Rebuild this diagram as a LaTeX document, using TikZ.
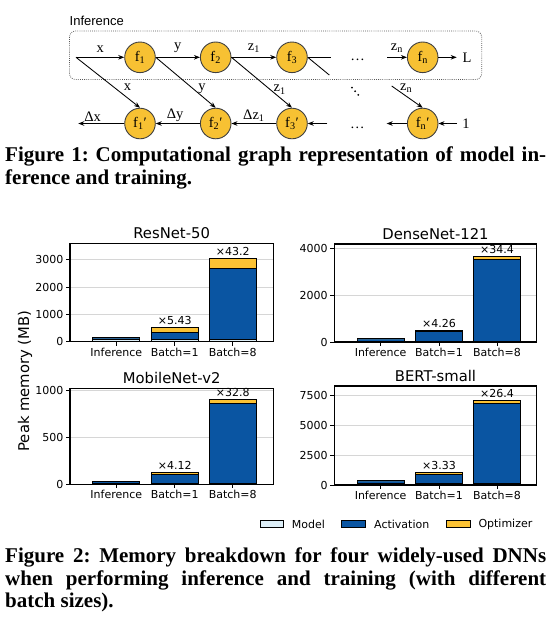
\documentclass[tikz,border=0pt]{standalone}
\usepackage{fontspec}
\usetikzlibrary{arrows.meta}
\newfontfamily\capfont{Liberation Serif}
\newfontfamily\chfont{DejaVu Sans}
\newfontfamily\lsans{Liberation Sans}
\newfontfamily\lserif{Liberation Serif}
\frenchspacing
\definecolor{nodeY}{HTML}{F7C133}
\definecolor{modelC}{HTML}{DDEEF7}
\definecolor{actC}{HTML}{0A55A2}
\definecolor{optC}{HTML}{FBC234}
\definecolor{gridC}{HTML}{D6D6D6}
\definecolor{boxC}{HTML}{555555}
\tikzset{
  x=1pt, y=-1pt,
  fnode/.style={circle, draw=black!75, line width=0.9pt, fill=nodeY, minimum size=30.6pt, inner sep=0pt, font=\lserif\fontsize{14.5}{15}\selectfont},
  arr/.style={-{Stealth[length=6pt,width=4.6pt]}, line width=0.85pt},
  plain/.style={line width=0.85pt},
  lbl/.style={font=\lserif\fontsize{14.5}{15}\selectfont, inner sep=1pt},
  gridl/.style={draw=gridC, line width=0.8pt},
  barline/.style={draw=black, line width=0.9pt},
  frame/.style={draw=black, line width=1.1pt},
  tickf/.style={font=\chfont\fontsize{11}{12}\selectfont, inner sep=0pt},
  titlef/.style={font=\chfont\fontsize{14.8}{16}\selectfont, inner sep=0pt},
  capline/.style={font=\capfont\bfseries\fontsize{21}{24}\selectfont, inner sep=0pt, anchor=base west},
}
\newcommand\stackbar[7]{% name, cx, base, scale, m, a, o
  \pgfmathsetmacro\yA{#3-#4*#5}
  \pgfmathsetmacro\yB{\yA-#4*#6}
  \pgfmathsetmacro\yC{\yB-#4*#7}
  \draw[barline, fill=modelC] (#2-23.5,#3) rectangle (#2+23.5,\yA);
  \draw[barline, fill=actC] (#2-23.5,\yA) rectangle (#2+23.5,\yB);
  \draw[barline, fill=optC] (#2-23.5,\yB) rectangle (#2+23.5,\yC);
  \coordinate (#1) at (#2,\yC);
}
\newcommand\chartbase[7]{% id, left, right, base, top, scale, title
  \def\cL{#2}\def\cR{#3}\def\cB{#4}\def\cT{#5}\def\cS{#6}
  \node[titlef, anchor=base] (title#1) at ({(#2+#3)/2},#5-4.5) {#7};
  \foreach \k/\lab in {46.3/Inference,104.7/Batch=1,162.7/Batch=8}{
    \draw[line width=0.8pt] (#2+\k,#4) -- (#2+\k,#4+4);
    \node[tickf, anchor=base] (x#1\k) at (#2+\k,#4+14.6) {\lab};
  }
}
\newcommand\ytick[1]{%
  \draw[gridl] (\cL,\cB-#1*\cS) -- (\cR,\cB-#1*\cS);
  \draw[line width=0.8pt] (\cL-4,\cB-#1*\cS) -- (\cL,\cB-#1*\cS);
  \node[tickf, anchor=east] (yt#1) at (\cL-6.5,\cB-#1*\cS) {#1};
}
\begin{document}
\begin{tikzpicture}
\useasboundingbox (0,0) rectangle (553,622);

% ---------------- Figure 1: computational graph ----------------
\node[anchor=west, inner sep=0pt, font=\lsans\fontsize{13}{14}\selectfont] (inflbl) at (69.5,21) {Inference};
\draw[draw=boxC, line width=0.8pt, dash pattern=on 0.8pt off 1.3pt, rounded corners=6pt] (69.5,31) rectangle (481.7,79.5);

\node[fnode] (f1) at (140,57.3) {f\textsubscript{1}};
\node[fnode] (f2) at (215.7,57.3) {f\textsubscript{2}};
\node[fnode] (f3) at (292,57.3) {f\textsubscript{3}};
\node[fnode] (fn) at (422.7,57.3) {f\textsubscript{n}};
\node[fnode] (g1) at (140,123.5) {f\textsubscript{1}′};
\node[fnode] (g2) at (215.7,123.5) {f\textsubscript{2}′};
\node[fnode] (g3) at (292,123.5) {f\textsubscript{3}′};
\node[fnode] (gn) at (422.7,123.5) {f\textsubscript{n}′};

\coordinate (in) at (76,57.3);
\coordinate (f3a) at (331,57.3);
\coordinate (f3b) at (329.3,75);
\coordinate (zs) at (387,57.3);
\coordinate (zd) at (391.7,86);
\coordinate (Lend) at (456.7,57.3);
\node[lbl] (L) at (467,57.3) {L};
\node[lbl] (one) at (466,123.5) {1};
\coordinate (onestart) at (457,123.5);
\coordinate (gnend) at (386.7,123.5);
\coordinate (g3start) at (327.3,123.5);
\coordinate (dx) at (78.3,123.5);

\draw[arr] (in) -- node[lbl, above=3.5pt] {x} (f1);
\draw[arr] (f1) -- node[lbl, above=3.5pt] {y} (f2);
\draw[arr] (f2) -- node[lbl, above=3.5pt] {z\textsubscript{1}} (f3);
\draw[plain] (f3.east) -- (f3a);
\draw[plain] (f3.east) -- (f3b);
\draw[arr] (zs) -- node[lbl, above=3.5pt] {z\textsubscript{n}} (fn);
\draw[arr] (fn) -- (Lend);

\draw[arr] (in) -- node[lbl, pos=0.6, right=8pt] {x} (g1.north);
\draw[arr] (f1.east) -- node[lbl, pos=0.62, right=4pt] {y} (g2.north);
\draw[arr] (f2.east) -- node[lbl, pos=0.64, right=2pt] {z\textsubscript{1}} (g3.north);
\draw[arr] (zd) -- node[lbl, pos=0.1, right=4pt] {z\textsubscript{n}} (gn.north);

\draw[arr] (onestart) -- (gn);
\draw[arr] (gn) -- (gnend);
\draw[arr] (g3start) -- (g3);
\draw[arr] (g3) -- node[lbl, above=0.5pt] {Δz\textsubscript{1}} (g2);
\draw[arr] (g2) -- node[lbl, pos=0.56, above=0.5pt] {Δy} (g1);
\draw[arr] (g1) -- node[lbl, pos=0.69, above=0.5pt] {Δx} (dx);

\node[lbl, anchor=base] (dots1) at (357.7,60.5) {…};
\node[lbl, anchor=base] (dots3) at (357.3,128) {…};
\fill (351.9,87.6) circle (1pt) (355.1,91.2) circle (1pt) (358.3,94.8) circle (1pt);

% ---------------- Caption 1 ----------------
\node[capline] (c1a) at (5,161) {\makebox[541pt][s]{Figure 1: Computational graph representation of model in-}};
\node[capline] (c1b) at (5,184.5) {ference and training.};

% ---------------- Charts ----------------
% ResNet-50
\chartbase{A}{70}{273.3}{341.7}{243.3}{0.02733}{ResNet-50}
\ytick{0}\ytick{1000}\ytick{2000}\ytick{3000}
\stackbar{bA1}{116.3}{341.7}{0.02733}{100}{46}{0}
\stackbar{bA2}{174.7}{341.7}{0.02733}{95}{245}{183}
\stackbar{bA3}{232.7}{341.7}{0.02733}{100}{2586}{366}
\draw[frame] (70,341.7) rectangle (273.3,243.3);

% DenseNet-121
\chartbase{B}{334.3}{536.7}{342}{244}{0.0235}{DenseNet-121}
\ytick{0}\ytick{2000}\ytick{4000}
\stackbar{bB1}{380.6}{342}{0.0235}{31}{110}{0}
\stackbar{bB2}{439}{342}{0.0235}{31}{417}{62}
\stackbar{bB3}{497}{342}{0.0235}{31}{3500}{105}
\draw[frame] (334.3,342) rectangle (536.7,244);

% MobileNet-v2
\chartbase{C}{70}{273.3}{484.3}{388.3}{0.0936}{MobileNet-v2}
\ytick{0}\ytick{500}\ytick{1000}
\stackbar{bC1}{116.3}{484.3}{0.0936}{14}{21}{0}
\stackbar{bC2}{174.7}{484.3}{0.0936}{14}{92}{22}
\stackbar{bC3}{232.7}{484.3}{0.0936}{14}{851}{43}
\draw[frame] (70,484.3) rectangle (273.3,388.3);

% BERT-small
\chartbase{D}{334.3}{536.7}{485}{386}{0.01188}{BERT-small}
\ytick{0}\ytick{2500}\ytick{5000}\ytick{7500}
\stackbar{bD1}{380.6}{485}{0.01188}{110}{252}{0}
\stackbar{bD2}{439}{485}{0.01188}{110}{757}{168}
\stackbar{bD3}{497}{485}{0.01188}{110}{6767}{278}
\draw[frame] (334.3,485) rectangle (536.7,386);

% bar labels
\node[tickf, anchor=base] (lA2) at (174.7,324.5) {×5.43};
\node[tickf, anchor=base] (lA3) at (232.7,255.3) {×43.2};
\node[tickf, anchor=base] (lB2) at (439,327) {×4.26};
\node[tickf, anchor=base] (lB3) at (497,253.7) {×34.4};
\node[tickf, anchor=base] (lC2) at (174.7,469.3) {×4.12};
\node[tickf, anchor=base] (lC3) at (232.7,396.3) {×32.8};
\node[tickf, anchor=base] (lD2) at (439,469.7) {×3.33};
\node[tickf, anchor=base] (lD3) at (497,397) {×26.4};

% y label
\node[titlef, rotate=90] (ylab) at (25,381) {Peak memory (MB)};

% legend
\draw[barline, fill=modelC] (260,520) rectangle (283.3,527.7);
\node[tickf, anchor=west] (legM) at (291.7,524) {Model};
\draw[barline, fill=actC] (341.7,520) rectangle (365,527.7);
\node[tickf, anchor=west] (legA) at (374,524) {Activation};
\draw[barline, fill=optC] (446.7,520) rectangle (470,527.7);
\node[tickf, anchor=west] (legO) at (478.3,524) {Optimizer};

% ---------------- Caption 2 ----------------
\node[capline] (c2a) at (5,562.7) {\makebox[541pt][s]{Figure 2: Memory breakdown for four widely-used DNNs}};
\node[capline] (c2b) at (5,585) {\makebox[541pt][s]{when performing inference and training (with different}};
\node[capline] (c2c) at (5,607.3) {batch sizes).};
\end{tikzpicture}
\end{document}
